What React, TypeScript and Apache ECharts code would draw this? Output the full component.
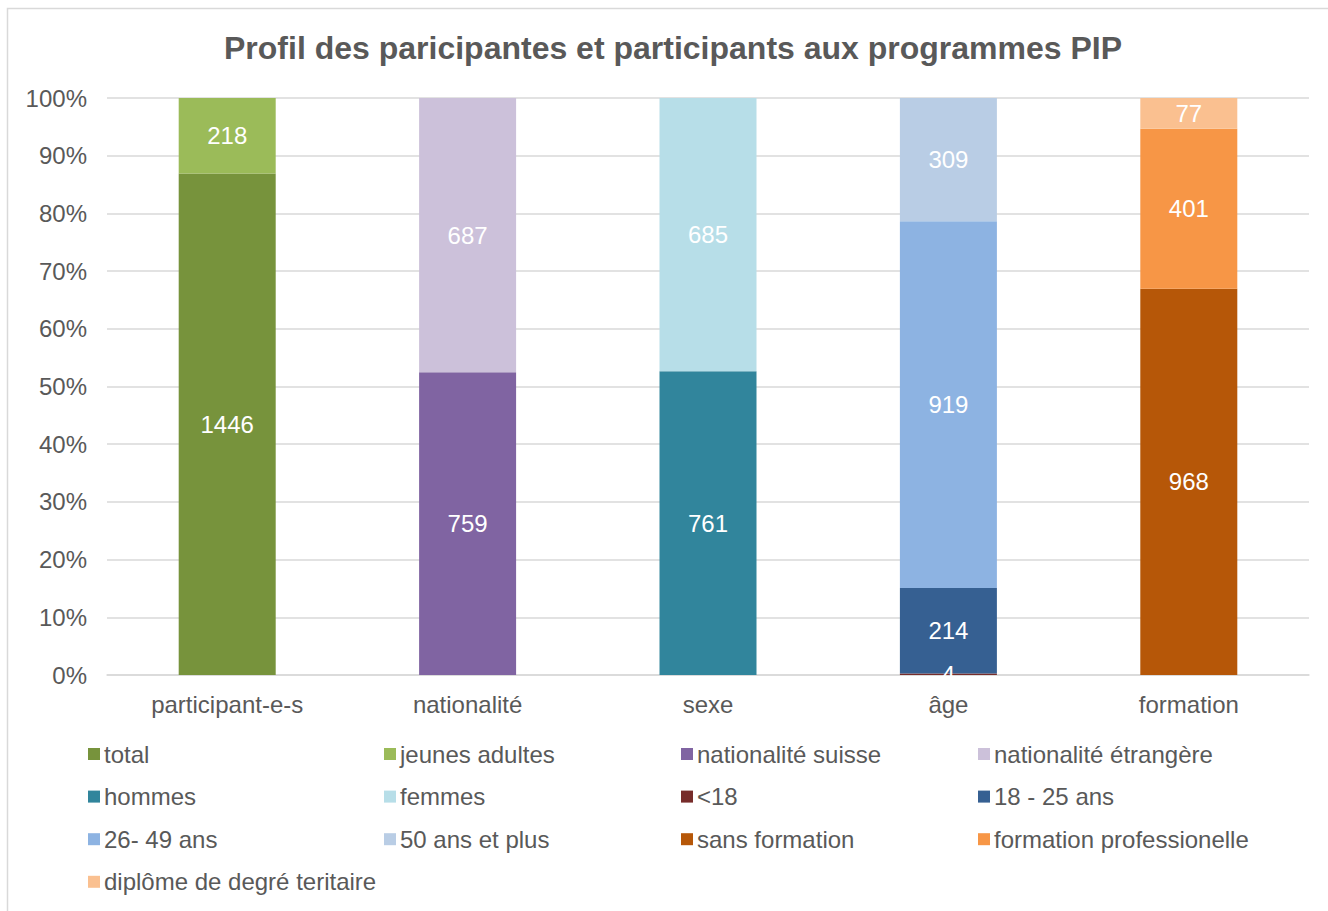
import React, { useEffect, useRef } from "react";
import * as echarts from "echarts";

const TITLE = "Profil des paricipantes et participants aux programmes PIP";
const categories = ["participant-e-s", "nationalité", "sexe", "âge", "formation"];
const yTicks = [0, 10, 20, 30, 40, 50, 60, 70, 80, 90, 100];

// counts per category (null where the series does not apply)
const seriesNames = [
  "total",
  "jeunes adultes",
  "nationalité suisse",
  "nationalité étrangère",
  "hommes",
  "femmes",
  "<18",
  "18 - 25 ans",
  "26- 49 ans",
  "50 ans et plus",
  "sans formation",
  "formation professionelle",
  "diplôme de degré teritaire",
];
const totalCounts = [1446, null, null, null, null];
const jeunesAdultes = [218, null, null, null, null];
const natSuisse = [null, 759, null, null, null];
const natEtrangere = [null, 687, null, null, null];
const hommes = [null, null, 761, null, null];
const femmes = [null, null, 685, null, null];
const moins18 = [null, null, null, 4, null];
const age18_25 = [null, null, null, 214, null];
const age26_49 = [null, null, null, 919, null];
const age50plus = [null, null, null, 309, null];
const sansFormation = [null, null, null, null, 968];
const formationPro = [null, null, null, null, 401];
const diplomeTertiaire = [null, null, null, null, 77];

const seriesCounts = [
  totalCounts, jeunesAdultes, natSuisse, natEtrangere, hommes, femmes,
  moins18, age18_25, age26_49, age50plus, sansFormation, formationPro, diplomeTertiaire,
];
const seriesColors = [
  "#77933C", "#9BBB59", "#8064A2", "#CCC1DA", "#31859C", "#B7DEE8",
  "#772C2A", "#366092", "#8DB3E2", "#B9CDE5", "#B65708", "#F79646", "#FAC090",
];

// legend columns (as laid out in the reference)
const legendColumns = [
  ["total", "hommes", "26- 49 ans", "diplôme de degré teritaire"],
  ["jeunes adultes", "femmes", "50 ans et plus"],
  ["nationalité suisse", "<18", "sans formation"],
  ["nationalité étrangère", "18 - 25 ans", "formation professionelle"],
];
const legendLefts = [88, 384, 681, 978];

const FONT = "Arial, 'Liberation Sans', sans-serif";
const TEXT = "#595959";

export default function App() {
  const ref = useRef<HTMLDivElement>(null);
  useEffect(() => {
    document.body.style.margin = "0";
    if (!ref.current) return;
    const chart = echarts.init(ref.current, undefined, { renderer: "svg" });

    const catTotals = categories.map((_, i) =>
      seriesCounts.reduce((s, arr) => s + (arr[i] ?? 0), 0)
    );

    const series = seriesNames.map((name, si) => ({
      name,
      type: "bar",
      stack: "all",
      barWidth: 97,
      itemStyle: { color: seriesColors[si] },
      label: {
        show: true,
        position: "inside",
        color: "#FFFFFF",
        fontSize: 24,
        fontFamily: FONT,
        formatter: (p: any) => (p.data && p.data.raw != null ? String(p.data.raw) : ""),
      },
      data: seriesCounts[si].map((v, i) =>
        v == null ? { value: null, raw: null } : { value: (v / catTotals[i]) * 100, raw: v }
      ),
    }));

    const legends = legendColumns.map((col, ci) => ({
      orient: "vertical",
      left: legendLefts[ci],
      top: 742,
      padding: 0,
      itemWidth: 12,
      itemHeight: 12,
      itemGap: 18.6,
      icon: "rect",
      data: col,
      selectedMode: false,
      textStyle: { fontSize: 24, lineHeight: 24, color: TEXT, fontFamily: FONT, padding: [0, 0, 0, -1] },
    }));

    chart.setOption({
      animation: false,
      backgroundColor: "#FFFFFF",
      title: {
        text: TITLE,
        left: 219,
        top: 27,
        textStyle: { fontSize: 32, fontWeight: "bold", color: TEXT, fontFamily: FONT },
      },
      graphic: [
        {
          type: "rect",
          shape: { x: 7.5, y: 8.5, width: 1400, height: 1000 },
          style: { fill: "none", stroke: "#D9D9D9", lineWidth: 1.5 },
          silent: true,
        },
      ],
      legend: legends,
      grid: { left: 107, right: 19, top: 98, bottom: 236, containLabel: false },
      xAxis: {
        type: "category",
        data: categories,
        axisTick: { show: false },
        axisLine: { lineStyle: { color: "#D9D9D9", width: 1.5 } },
        axisLabel: { fontSize: 24, color: TEXT, fontFamily: FONT, margin: 17 },
      },
      yAxis: {
        type: "value",
        min: yTicks[0],
        max: yTicks[yTicks.length - 1],
        interval: 10,
        axisLine: { show: false },
        axisTick: { show: false },
        splitLine: { lineStyle: { color: "#D9D9D9", width: 1.5 } },
        axisLabel: { fontSize: 24, color: TEXT, fontFamily: FONT, margin: 20, formatter: "{value}%" },
      },
      series,
    });
    return () => chart.dispose();
  }, []);
  return <div ref={ref} style={{ width: 1328, height: 911 }} />;
}
